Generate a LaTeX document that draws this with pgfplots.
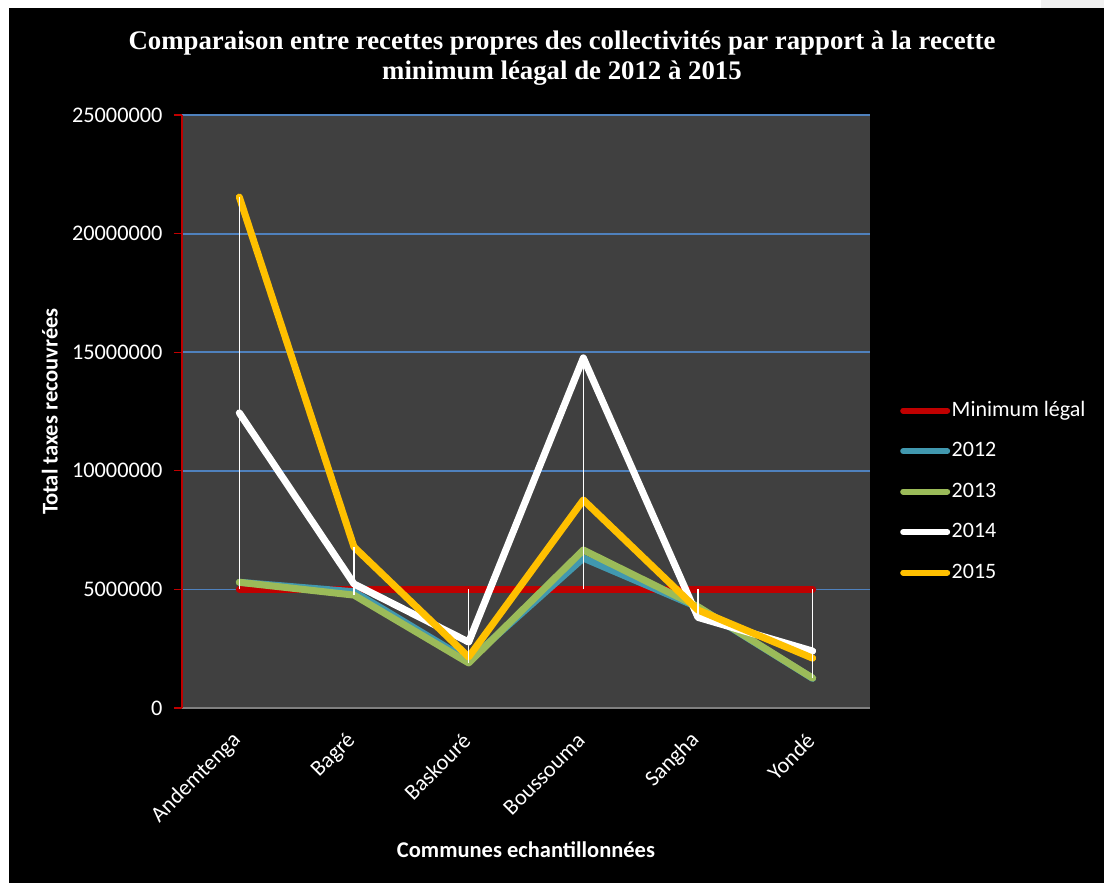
\documentclass[border=0pt]{standalone}
\usepackage{pgfplots}
\usepackage{pgfplotstable}
\pgfplotsset{compat=1.18}
\usepackage{fontspec}
\setmainfont{Carlito}
\newfontfamily\titlefont{Liberation Serif}
\definecolor{plotbg}{RGB}{64,64,64}
\definecolor{gridblue}{RGB}{79,129,189}
\definecolor{minred}{RGB}{192,0,0}
\definecolor{c2012}{RGB}{65,152,175}
\definecolor{c2013}{RGB}{155,187,89}
\definecolor{c2015}{RGB}{255,192,0}

\pgfplotstableread{
x minl y2012 y2013 y2014 y2015
0 5000000 5300000 5300000 12440000 21540000
1 5000000 4900000 4760000 5230000 6790000
2 5000000 2000000 1900000 2780000 2150000
3 5000000 6320000 6660000 14760000 8770000
4 5000000 4250000 4270000 3820000 4130000
5 5000000 1250000 1260000 2400000 2100000
}\data

\pgfplotstableread{
x y
0 5000000
0 21540000
0 nan
1 4760000
1 6790000
1 nan
2 1900000
2 5000000
2 nan
3 5000000
3 14760000
3 nan
4 3820000
4 5000000
4 nan
5 1260000
5 5000000
}\hilo

\begin{document}
\begin{tikzpicture}[x=1pt,y=1pt]
\fill[white] (0,0) rectangle (1104,-883);
\fill[black!6] (1041,0) rectangle (1104,-8);
\fill[black] (9,-8) rectangle (1104,-883);
\node[font=\titlefont\bfseries\fontsize{26.8}{30}\selectfont, text=white, align=center] at (562,-58.5)
  {Comparaison entre recettes propres des collectivités par rapport à la recette\\minimum léagal de 2012 à 2015};
\begin{axis}[
  at={(182pt,-708pt)}, anchor=south west,
  scale only axis, width=688pt, height=593pt,
  xmin=-0.5, xmax=5.5, ymin=0, ymax=25000000,
  xtick={0,1,2,3,4,5},
  xticklabels={Andemtenga,Bagré,Baskouré,Boussouma,Sangha,Yondé},
  ytick={0,5000000,10000000,15000000,20000000,25000000},
  yticklabels={0,5000000,10000000,15000000,20000000,25000000},
  scaled y ticks=false,
  axis lines*=left,
  axis line style={-},
  x axis line style={draw=gray, line width=1.2pt},
  y axis line style={draw=minred, line width=1.2pt},
  tick align=outside,
  major tick length=8pt,
  xtick style={draw=none},
  ytick style={draw=minred, line width=1.2pt},
  ymajorgrids,
  grid style={gridblue, line width=1.8pt},
  axis background/.style={fill=plotbg},
  tick label style={text=white, font=\fontsize{22.3}{24}\selectfont},
  yticklabel style={xshift=-8pt},
  xticklabel style={rotate=45, anchor=east, yshift=-13.5pt, xshift=-13pt},
  xlabel={Communes echantillonnées},
  ylabel={Total taxes recouvrées},
  xlabel style={at={(rel axis cs:0.5,-0.2395)}, anchor=center, text=white, font=\bfseries\fontsize{22.5}{24}\selectfont},
  ylabel style={at={(rel axis cs:-0.192,0.5)}, anchor=center, text=white, font=\bfseries\fontsize{22.5}{24}\selectfont},
  unbounded coords=jump,
  legend image code/.code={\draw[#1, line width=6pt, line cap=round] (0pt,0pt) -- (44pt,0pt);},
  legend style={at={(1,0.365)}, anchor=west, xshift=30pt, draw=none, fill=none,
    inner sep=0pt, row sep=16.5pt,
    nodes={inner sep=1.5pt, text=white, text height=16pt, text depth=5pt},
    font=\fontsize{22}{24}\selectfont},
  legend cell align=left,
  every axis plot/.append style={line width=7pt, line cap=round, line join=round},
]
\addplot[minred] table[x=x, y=minl] {\data};
\addlegendentry{Minimum légal}
\addplot[c2012] table[x=x, y=y2012] {\data};
\addlegendentry{2012}
\addplot[c2013] table[x=x, y=y2013] {\data};
\addlegendentry{2013}
\addplot[white] table[x=x, y=y2014] {\data};
\addlegendentry{2014}
\addplot[c2015] table[x=x, y=y2015] {\data};
\addlegendentry{2015}
\addplot[white, line width=1.5pt, line cap=butt, forget plot] table[x=x, y=y] {\hilo};
\end{axis}
\pgfresetboundingbox
\useasboundingbox (0,0) rectangle (1104,-883);
\end{tikzpicture}
\end{document}
